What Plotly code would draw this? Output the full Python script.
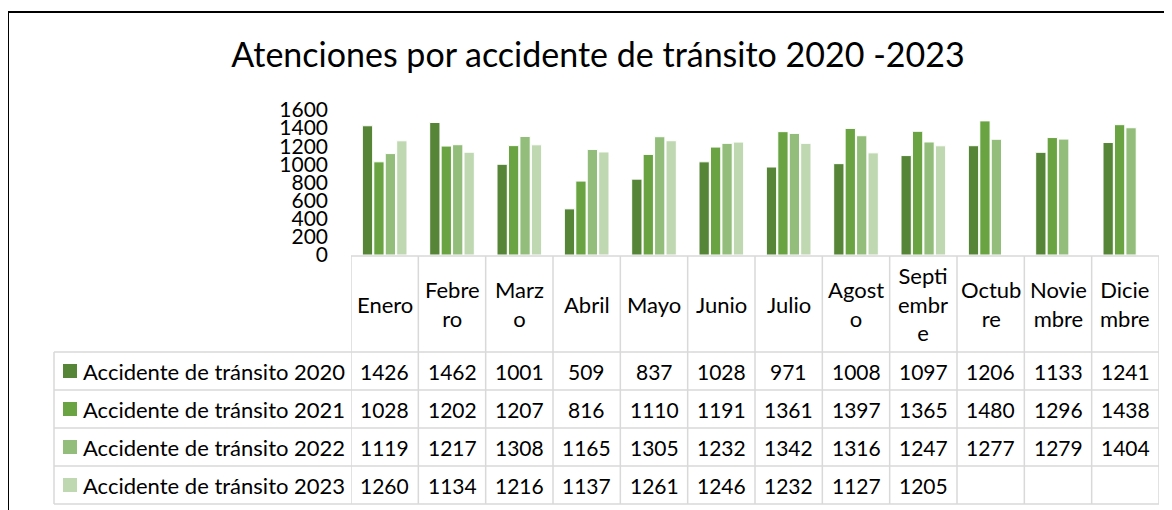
import plotly.graph_objects as go

months = ["Enero", "Febrero", "Marzo", "Abril", "Mayo", "Junio", "Julio",
          "Agosto", "Septiembre", "Octubre", "Noviembre", "Diciembre"]
# how Excel wrapped the names inside the narrow table cells
month_labels = ["Enero", "Febre<br>ro", "Marz<br>o", "Abril", "Mayo", "Junio", "Julio",
                "Agost<br>o", "Septi<br>embr<br>e", "Octub<br>re", "Novie<br>mbre", "Dicie<br>mbre"]

series_names = ["Accidente de tránsito 2020", "Accidente de tránsito 2021",
                "Accidente de tránsito 2022", "Accidente de tránsito 2023"]
v2020 = [1426, 1462, 1001, 509, 837, 1028, 971, 1008, 1097, 1206, 1133, 1241]
v2021 = [1028, 1202, 1207, 816, 1110, 1191, 1361, 1397, 1365, 1480, 1296, 1438]
v2022 = [1119, 1217, 1308, 1165, 1305, 1232, 1342, 1316, 1247, 1277, 1279, 1404]
v2023 = [1260, 1134, 1216, 1137, 1261, 1246, 1232, 1127, 1205, None, None, None]
colors = ["#568537", "#6aa342", "#93bd7a", "#bfd8b1"]

y_ticks = [0, 200, 400, 600, 800, 1000, 1200, 1400, 1600]

# the page body has an 8px margin, so the figure starts at (8, 8) on screen
OFF = 8
W, H = 1164, 502
L, R, T, B = 343, 13, 102, 255
FONT = "Lato"
GRID = "#d9d9d9"
NUM = dict(family=FONT, size=21, color="black")
WORD = dict(family=FONT, size=22, color="black")

# screen pixel -> paper helpers for the data table drawn under the plot
def px(x):
    return (x - OFF - L) / (W - L - R)

def py(y):
    return (H - B - (y - OFF)) / (H - T - B)

fig = go.Figure()
all_values = [v2020, v2021, v2022, v2023]
for name, vals, c in zip(series_names, all_values, colors):
    fig.add_trace(go.Bar(x=months, y=vals, name=name,
                         marker=dict(color=c, line=dict(color="white", width=1))))

shapes = []
annotations = []

# table grid
header_top, row_lines = 256, [352, 390, 428, 466, 504]
shapes.append(dict(type="line", xref="paper", yref="paper", x0=0, x1=1,
                   y0=py(header_top), y1=py(header_top), line=dict(color=GRID, width=1.5)))
for ry in row_lines:
    shapes.append(dict(type="line", xref="paper", yref="paper", x0=px(54), x1=1,
                       y0=py(ry), y1=py(ry), line=dict(color=GRID, width=1.5)))
for i in range(len(months) + 1):
    shapes.append(dict(type="line", xref="x", yref="paper", x0=i - 0.5, x1=i - 0.5,
                       y0=py(header_top), y1=py(row_lines[-1]), line=dict(color=GRID, width=1.5)))
shapes.append(dict(type="line", xref="paper", yref="paper", x0=px(54), x1=px(54),
                   y0=py(row_lines[0]), y1=py(row_lines[-1]), line=dict(color=GRID, width=1.5)))

# outer frame of the chart object
shapes.append(dict(type="line", xref="paper", yref="paper", x0=px(8), x1=px(OFF + W),
                   y0=py(12), y1=py(12), line=dict(color="black", width=2)))
shapes.append(dict(type="line", xref="paper", yref="paper", x0=px(8), x1=px(8),
                   y0=py(12), y1=py(OFF + H), line=dict(color="black", width=2)))

# header row
for m, lab in zip(months, month_labels):
    annotations.append(dict(x=m, xref="x", y=py(304), yref="paper", text=lab,
                            showarrow=False, font=WORD,
                            xanchor="center", yanchor="middle"))

# data rows + legend keys
for r, (name, vals, c) in enumerate(zip(series_names, all_values, colors)):
    cy = (row_lines[r] + row_lines[r + 1]) / 2
    shapes.append(dict(type="rect", xref="paper", yref="paper", x0=px(63), x1=px(77),
                       y0=py(cy - 7), y1=py(cy + 7), fillcolor=c, line=dict(width=0)))
    annotations.append(dict(x=px(81), xref="paper", y=py(cy), yref="paper", text=name,
                            showarrow=False, font=WORD,
                            xanchor="left", yanchor="middle"))
    for m, v in zip(months, vals):
        if v is None:
            continue
        annotations.append(dict(x=m, xref="x", y=py(cy), yref="paper", text=str(v),
                                showarrow=False, font=NUM,
                                xanchor="center", yanchor="middle"))

fig.update_layout(
    width=W, height=H,
    margin=dict(l=L, r=R, t=T, b=B),
    paper_bgcolor="white", plot_bgcolor="white",
    barmode="group", bargap=0.32, bargroupgap=0.1,
    showlegend=False,
    title=dict(text="Atenciones por accidente de tránsito 2020 -2023",
               x=(598 - OFF) / W, xanchor="center", y=1 - (55 - OFF) / H, yanchor="middle",
               font=dict(family=FONT, size=34, color="black")),
    shapes=shapes, annotations=annotations,
)
fig.update_xaxes(showticklabels=False, showgrid=False, zeroline=False, showline=False,
                 range=[-0.5, 11.5])
fig.update_yaxes(range=[0, 1600], tickmode="array", tickvals=y_ticks,
                 showgrid=False, zeroline=False, showline=False,
                 ticklabelstandoff=22, tickfont=NUM)

fig.write_html("out.html")
